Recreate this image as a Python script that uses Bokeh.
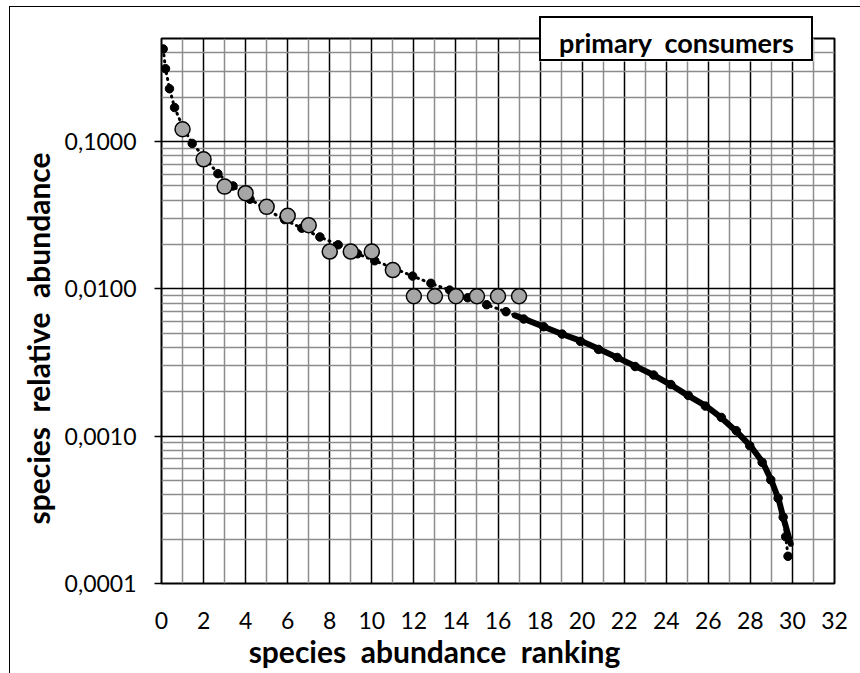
import math
from bokeh.plotting import figure
from bokeh.models import FixedTicker, Label, Range1d, InlineStyleSheet, BoxAnnotation
from bokeh.embed import file_html
from bokeh.resources import INLINE

# ---------------- data ----------------
rank_observed = [1, 2, 3, 4, 5, 6, 7, 8, 9, 10, 11, 12, 13, 14, 15, 16, 17]
abund_observed = [0.121, 0.0757, 0.0494, 0.0446, 0.036, 0.0313, 0.027, 0.0179, 0.0179,
                  0.0179, 0.0134, 0.0089, 0.0089, 0.0089, 0.0089, 0.0089, 0.0089]

rank_model = [0.08, 0.19, 0.38, 0.62, 1.02, 1.46, 2.05, 2.68, 3.40, 4.21, 5.0, 5.85, 6.67,
              7.53, 8.40, 9.32, 10.14, 11.05, 11.94, 12.81, 13.70, 14.56, 15.46, 16.38,
              17.22, 18.17, 19.05, 19.92, 20.78, 21.67, 22.52, 23.40, 24.22, 25.05, 25.86,
              26.62, 27.33, 27.97, 28.56, 28.97, 29.32, 29.56, 29.68, 29.79]
abund_model = [0.425, 0.312, 0.228, 0.170, 0.125, 0.097, 0.078, 0.0605, 0.0499, 0.0406,
               0.0345, 0.0295, 0.0258, 0.0225, 0.0199, 0.0173, 0.0155, 0.0138, 0.0122,
               0.0109, 0.0098, 0.0087, 0.0078, 0.0070, 0.00624, 0.00553, 0.00493, 0.0044,
               0.00388, 0.00342, 0.00297, 0.0026, 0.00224, 0.00189, 0.0016, 0.00134,
               0.00109, 0.000862, 0.000664, 0.000505, 0.000379, 0.000282, 0.000208,
               0.000153]

rank_curve = [16.8, 17.3, 18.2, 19.1, 20.0, 20.8, 21.7, 22.5, 23.4, 24.2, 25.0, 25.9, 26.6,
              27.3, 28.0, 28.6, 29.0, 29.35, 29.56, 29.82, 29.92]
abund_curve = [0.0066, 0.0062, 0.0055, 0.0049, 0.0044, 0.0039, 0.0034, 0.0030, 0.0026,
               0.00224, 0.0019, 0.0016, 0.00134, 0.00109, 0.00086, 0.00066, 0.00050,
               0.00037, 0.000282, 0.000208, 0.000186]

x_ticks = [0, 2, 4, 6, 8, 10, 12, 14, 16, 18, 20, 22, 24, 26, 28, 30, 32]
x_minor = [1, 3, 5, 7, 9, 11, 13, 15, 17, 19, 21, 23, 25, 27, 29, 31]
y_ticks = [0.0001, 0.001, 0.01, 0.1]
y_tick_labels = ["0,0001", "0,0010", "0,0100", "0,1000"]
y_minor = [k * d for d in (0.0001, 0.001, 0.01, 0.1) for k in range(2, 10) if k * d <= 0.5]

NB = "\u00a0 "
title_text = "primary" + NB + "consumers"
x_title = "species" + NB + "abundance" + NB + "ranking"
y_title = "species" + NB + "relative" + NB + "abundance"

FONT = "Lato"

p = figure(width=860, height=673, output_backend="svg", toolbar_location=None,
           y_axis_type="log", x_range=Range1d(0, 32), y_range=Range1d(0.0001, 0.5),
           min_border_left=161, min_border_right=26, min_border_top=38,
           min_border_bottom=90)
p.background_fill_color = "white"
p.border_fill_color = "white"
p.outline_line_color = "black"
p.outline_line_width = 2
# thin outer chart frame (only its top and left edges fall inside the picture)
# and the outline of the title box, which straddles the top of the plot area
p.stylesheets = [InlineStyleSheet(css=(
    ":host::after{content:'';position:absolute;left:9px;top:6px;right:0;bottom:0;"
    "border-left:1.5px solid black;border-top:1.5px solid black;pointer-events:none;"
    "z-index:10;}"
    ":host::before{content:'';position:absolute;left:539px;top:16px;width:274px;"
    "height:45px;box-sizing:border-box;border:2px solid black;pointer-events:none;"
    "z-index:10;}"))]

p.xaxis.ticker = FixedTicker(ticks=x_ticks, minor_ticks=x_minor)
p.yaxis.ticker = FixedTicker(ticks=y_ticks, minor_ticks=y_minor)
p.yaxis.major_label_overrides = {t: l for t, l in zip(y_ticks, y_tick_labels)}

for ax in (p.xaxis, p.yaxis):
    ax.axis_line_color = None
    ax.minor_tick_line_color = None
    ax.major_tick_in = 0
    ax.major_label_text_font = FONT
    ax.major_label_text_font_size = "23px"
    ax.major_label_text_color = "black"
    ax.major_tick_line_color = "black"
    ax.major_tick_line_width = 1.5
p.xaxis.major_tick_out = 0
p.yaxis.major_tick_out = 7
p.xaxis.major_label_standoff = 24
p.yaxis.major_label_standoff = 18

for g in (p.xgrid, p.ygrid):
    g.grid_line_color = "black"
    g.grid_line_width = 1.5
    g.minor_grid_line_color = "#8c8c8c"
    g.minor_grid_line_width = 1.5

# dotted connector and model points
p.line(rank_model, abund_model, line_color="black", line_width=3, line_dash="1 5",
       line_cap="round")
p.scatter(rank_model, abund_model, size=8.5, fill_color="black", line_color="black")
# observed points
p.scatter(rank_observed, abund_observed, size=15, fill_color="#a6a6a6",
          line_color="black", line_width=1.5)
# thick tail curve
p.line(rank_curve, abund_curve, line_color="black", line_width=6, line_cap="round",
       line_join="round")

# white inside of the title box where it overlaps the plot area
p.add_layout(BoxAnnotation(left=539, right=813, top=30, bottom=61,
                           left_units="canvas", right_units="canvas",
                           top_units="canvas", bottom_units="canvas",
                           fill_color="white", fill_alpha=1, line_color=None,
                           level="annotation"))
# title text (side panel, so it is not clipped to the plot area)
p.add_layout(Label(x=676, y=42, x_units="canvas", y_units="canvas", text=title_text,
                   text_font=FONT, text_font_style="bold", text_font_size="27px",
                   text_align="center", text_baseline="middle", text_color="black",
                   background_fill_color="white", padding=(18, 1), level="overlay"),
             "above")

# axis titles
p.add_layout(Label(x=434, y=650, x_units="canvas", y_units="canvas", text=x_title,
                   text_font=FONT, text_font_style="bold", text_font_size="30px",
                   text_align="center", text_baseline="middle", text_color="black"),
             "below")
p.add_layout(Label(x=37, y=338, x_units="canvas", y_units="canvas", text=y_title,
                   angle=math.pi / 2, text_font=FONT, text_font_style="bold",
                   text_font_size="30px", text_align="center", text_baseline="middle",
                   text_color="black"), "left")

open("out.html", "w").write(file_html(p, INLINE))
